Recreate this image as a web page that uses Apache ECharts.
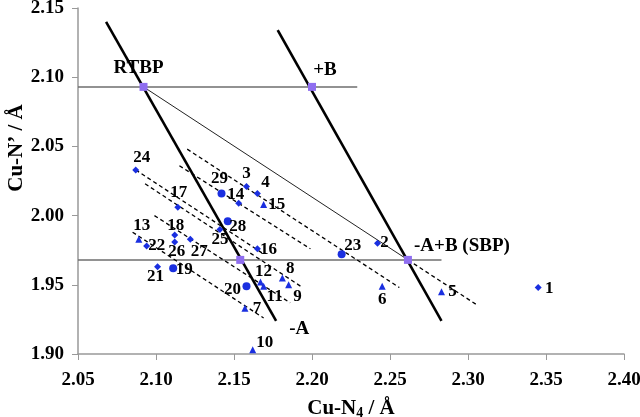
<!DOCTYPE html>
<html>
<head>
<meta charset="utf-8">
<script src="https://cdn.jsdelivr.net/npm/echarts@6/dist/echarts.min.js"></script>
<style>
  body{margin:0;background:#fff;}
  #main{width:640px;height:417px;}
</style>
</head>
<body>
<div id="main"></div>
<script>
// complexes 1..29, Cu-N4 (x) and Cu-N' (y), marker shape
var ids   = [1,2,3,4,5,6,7,8,9,10,11,12,13,14,15,16,17,18,19,20,21,22,23,24,25,26,27,28,29];
var cuN4  = [2.345,2.242,2.158,2.165,2.283,2.245,2.157,2.181,2.185,2.162,2.169,2.167,2.089,2.153,2.169,2.165,2.114,2.112,2.111,2.158,2.101,2.094,2.219,2.087,2.141,2.112,2.122,2.146,2.142];
var cuNp  = [1.948,1.980,2.021,2.016,1.945,1.949,1.933,1.955,1.950,1.903,1.949,1.952,1.983,2.009,2.008,1.976,2.006,1.986,1.962,1.949,1.963,1.978,1.972,2.033,1.990,1.981,1.983,1.996,2.016];
var shape = ['d','d','d','d','t','t','t','t','t','t','t','t','t','d','t','d','d','d','c','c','d','d','c','d','d','d','d','c','c'];

// reference geometries
var refNames = ['RTBP','+B','-A','-A+B (SBP)'];
var refX = [2.092,2.200,2.154,2.2615];
var refY = [2.093,2.093,1.968,1.968];

// thick lines (-A direction) and guide lines
var lineAx = [2.068,2.177], lineAy = [2.140,1.924];
var lineBx = [2.178,2.283], lineBy = [2.134,1.924];
var hTopX = [2.05,2.229], hTopY = [2.093,2.093];
var hBotX = [2.05,2.283], hBotY = [1.968,1.968];
var thinX = [2.092,2.2615], thinY = [2.093,1.968];

// dashed trend lines, start/end
var dashX1 = [2.120,2.115,2.087,2.093,2.099,2.085,2.2615];
var dashY1 = [2.048,2.036,2.033,2.023,2.000,1.988,1.968];
var dashX2 = [2.256,2.199,2.168,2.194,2.186,2.169,2.305];
var dashY2 = [1.948,1.976,1.973,1.948,1.937,1.926,1.936];

// label placement (px offsets from marker)
var labelOff = {
  1:[11,1],2:[7,-1],3:[0,-13],4:[8,-11],5:[11,0],6:[0,13],7:[12,0],8:[8,-9],9:[9,12],10:[12,-7],
  11:[11,10],12:[3,-10],13:[3,-14],14:[-3,-9],15:[13,0],16:[11,1],17:[1,-15],18:[1,-9],19:[11,1],20:[-14,3],
  21:[-2,10],22:[10,0],23:[11,-9],24:[6,-12],25:[0,10],26:[2,10],27:[9,12],28:[10,5],29:[-2,-15]
};
var refOff = {'RTBP':[-5,-19],'+B':[13,-17],'-A':[59,69],'-A+B (SBP)':[54,-14]};

var FONT = 'Liberation Serif';
var BLUE = '#1a2fe0';

function pts(code){
  var out = [];
  for(var i=0;i<ids.length;i++){
    if(shape[i]!=code) continue;
    out.push({
      value:[cuN4[i],cuNp[i]],
      label:{show:true,position:'inside',offset:labelOff[ids[i]],formatter:''+ids[i]}
    });
  }
  return out;
}

function seg(xs,ys,style){
  return {type:'line',symbol:'none',silent:true,animation:false,z:2,
    data:[[xs[0],ys[0]],[xs[1],ys[1]]],lineStyle:style};
}

var series = [];
series.push(seg(hTopX,hTopY,{color:'#6e6e6e',width:1.5}));
series.push(seg(hBotX,hBotY,{color:'#6e6e6e',width:1.5}));
series.push(seg(thinX,thinY,{color:'#222',width:1}));
series.push(seg(lineAx,lineAy,{color:'#000',width:2.6}));
series.push(seg(lineBx,lineBy,{color:'#000',width:2.6}));
for(var k=0;k<dashX1.length;k++){
  series.push(seg([dashX1[k],dashX2[k]],[dashY1[k],dashY2[k]],{color:'#000',width:1.3,type:[4,3]}));
}

var ptLabel = {color:'#000',fontFamily:FONT,fontWeight:'bold',fontSize:17,align:'center',verticalAlign:'middle',
  textBorderWidth:0,textBorderColor:'transparent'};
series.push({type:'scatter',symbol:'diamond',symbolSize:7,z:5,itemStyle:{color:BLUE,opacity:1},label:ptLabel,data:pts('d')});
series.push({type:'scatter',symbol:'triangle',symbolSize:7,z:5,itemStyle:{color:BLUE,opacity:1},label:ptLabel,data:pts('t')});
series.push({type:'scatter',symbol:'circle',symbolSize:8,z:5,itemStyle:{color:BLUE,opacity:1},label:ptLabel,data:pts('c')});

var refData = [];
for(var r=0;r<refNames.length;r++){
  refData.push({value:[refX[r],refY[r]],
    label:{show:true,position:'inside',offset:refOff[refNames[r]],formatter:refNames[r]}});
}
series.push({type:'scatter',symbol:'rect',symbolSize:8,z:6,itemStyle:{color:'#8f6ef0',opacity:1},
  label:{color:'#000',fontFamily:FONT,fontWeight:'bold',fontSize:19,align:'center',verticalAlign:'middle',
    textBorderWidth:0,textBorderColor:'transparent'},
  data:refData});

var chart = echarts.init(document.getElementById('main'));
chart.setOption({
  animation:false,
  backgroundColor:'#fff',
  grid:{left:78,right:16,top:8,bottom:63,outerBoundsMode:'none'},
  xAxis:{
    type:'value',min:2.05,max:2.40,interval:0.05,
    name:'Cu-N{sub|4} / Å',nameLocation:'middle',nameGap:44,
    nameTextStyle:{color:'#000',fontFamily:FONT,fontWeight:'bold',fontSize:21,
      rich:{sub:{fontFamily:FONT,fontWeight:'bold',fontSize:14,verticalAlign:'bottom',padding:[8,0,0,0]}}},
    axisLine:{onZero:false,lineStyle:{color:'#999',width:1.5}},
    axisTick:{show:true,inside:false,length:6,lineStyle:{color:'#999'}},
    splitLine:{show:false},
    axisLabel:{color:'#000',fontFamily:FONT,fontWeight:'bold',fontSize:19,margin:17,
      formatter:function(v){return v.toFixed(2);}}
  },
  yAxis:{
    type:'value',min:1.90,max:2.15,interval:0.05,
    axisLine:{show:true,onZero:false,lineStyle:{color:'#999',width:1.5}},
    axisTick:{show:true,length:6,lineStyle:{color:'#999'}},
    splitLine:{show:false},
    axisLabel:{color:'#000',fontFamily:FONT,fontWeight:'bold',fontSize:19,margin:14,
      formatter:function(v){return v.toFixed(2);}}
  },
  graphic:[{
    type:'text',x:17,y:148,rotation:Math.PI/2,
    style:{text:'Cu-N’ / Å',fill:'#000',font:'bold 21px "Liberation Serif"',align:'center',verticalAlign:'middle'}
  }],
  series:series
});
</script>
</body>
</html>
